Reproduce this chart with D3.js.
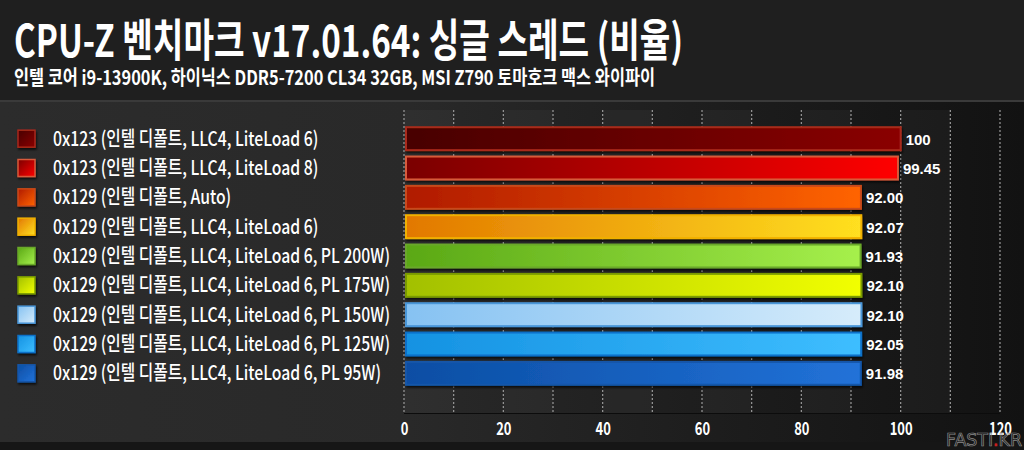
<!DOCTYPE html>
<html><head><meta charset="utf-8">
<script src="https://cdn.jsdelivr.net/npm/d3@7"></script>
<style>html,body{margin:0;padding:0;background:#1c1c1c;}svg{display:block;}</style>
</head><body>
<svg id="c" width="1024" height="450"></svg>
<script>
const title = "CPU-Z 벤치마크 v17.01.64: 싱글 스레드 (비율)";
const subtitle = "인텔 코어 i9-13900K, 하이닉스 DDR5-7200 CL34 32GB, MSI Z790 토마호크 맥스 와이파이";
const categories = [
  "0x123 (인텔 디폴트, LLC4, LiteLoad 6)",
  "0x123 (인텔 디폴트, LLC4, LiteLoad 8)",
  "0x129 (인텔 디폴트, Auto)",
  "0x129 (인텔 디폴트, LLC4, LiteLoad 6)",
  "0x129 (인텔 디폴트, LLC4, LiteLoad 6, PL 200W)",
  "0x129 (인텔 디폴트, LLC4, LiteLoad 6, PL 175W)",
  "0x129 (인텔 디폴트, LLC4, LiteLoad 6, PL 150W)",
  "0x129 (인텔 디폴트, LLC4, LiteLoad 6, PL 125W)",
  "0x129 (인텔 디폴트, LLC4, LiteLoad 6, PL 95W)"
];
const values = [100, 99.45, 92.00, 92.07, 91.93, 92.10, 92.10, 92.05, 91.98];
const valueLabels = ["100", "99.45", "92.00", "92.07", "91.93", "92.10", "92.10", "92.05", "91.98"];
const tickValues = [0, 20, 40, 60, 80, 100, 120];
const colorStart = ["#480000", "#7a0000", "#b01a00", "#e27800", "#5aa815", "#a2c000", "#86c2f2", "#1592e2", "#0b4ea4"];
const colorEnd   = ["#8a0000", "#ff0000", "#ff6400", "#ffe020", "#a6f04c", "#f2ff00", "#d6ecfb", "#3ebeff", "#2272d8"];
const colorBorder= ["#a82a1a", "#d85a3a", "#c84a1a", "#f0b000", "#6aa82a", "#7a9a00", "#4a96d8", "#0c70c8", "#1456a8"];

const svg = d3.select("#c");
const W = 1024, H = 450;
const defs = svg.append("defs");

const bg = defs.append("linearGradient").attr("id","bodybg").attr("x1","0").attr("x2","1").attr("y1","0").attr("y2","0");
[[0,"#2c2c2c"],[0.4,"#292929"],[0.7,"#1d1d1d"],[1,"#121212"]].forEach(s=>bg.append("stop").attr("offset",s[0]).attr("stop-color",s[1]));

svg.append("rect").attr("width",W).attr("height",H).attr("fill","#1c1c1c");
svg.append("rect").attr("width",W).attr("height",100).attr("fill","#1f1f1f");
svg.append("rect").attr("y",100).attr("width",W).attr("height",2).attr("fill","#3a3a3a");
svg.append("rect").attr("y",102).attr("width",W).attr("height",340).attr("fill","url(#bodybg)");
svg.append("rect").attr("y",442).attr("width",W).attr("height",8).attr("fill","#161616");

const cjk = "'Noto Sans CJK KR','Noto Sans',sans-serif";

function condense(sel, factor){
  sel.each(function(){
    const n = this.getComputedTextLength();
    d3.select(this).attr("textLength", n*factor).attr("lengthAdjust","spacingAndGlyphs");
  });
}

const t1 = svg.append("text").attr("x",14).attr("y",57).attr("fill","#fff")
  .attr("font-family",cjk).attr("font-weight",700).attr("font-size",45).text(title);
t1.attr("textLength",669).attr("lengthAdjust","spacingAndGlyphs");
const t2 = svg.append("text").attr("x",14).attr("y",85).attr("fill","#fff")
  .attr("font-family",cjk).attr("font-weight",700).attr("font-size",20).text(subtitle);
t2.attr("textLength",641).attr("lengthAdjust","spacingAndGlyphs");

const x = d3.scaleLinear().domain([0,120]).range([404,1000]);
const y = d3.scaleBand().domain(categories).range([124,388]).paddingInner(0.15).paddingOuter(0.075);
const plotTop = 110, plotBot = 413;

// alternating bands
const bands = d3.range(0,120,10).filter(v=> (v/10)%2===0);
svg.append("g").selectAll("rect").data(bands).join("rect")
  .attr("x",d=>x(d)).attr("width",d=>x(d+10)-x(d)).attr("y",plotTop).attr("height",plotBot-plotTop)
  .attr("fill","#ffffff").attr("opacity",0.03);

// grid
svg.append("g").selectAll("line").data(d3.range(0,121,10)).join("line")
  .attr("x1",d=>x(d)).attr("x2",d=>x(d)).attr("y1",plotTop).attr("y2",plotBot)
  .attr("stroke","#9a9a9a").attr("stroke-width",1.2).attr("stroke-dasharray","2,2");
svg.append("line").attr("x1",x(0)).attr("x2",x(120)).attr("y1",plotBot+0.5).attr("y2",plotBot+0.5).attr("stroke","#0c0c0c").attr("stroke-width",1);

// axis
const axis = d3.axisBottom(x).tickValues(tickValues).tickSize(0).tickFormat(d3.format("d"));
const ag = svg.append("g").attr("transform",`translate(0,${plotBot})`).call(axis);
ag.select(".domain").remove();
ag.selectAll("text").attr("fill","#fff").attr("font-family",cjk).attr("font-weight",700)
  .attr("font-size",18).attr("dy",0).attr("y",22);
condense(ag.selectAll("text"), 0.72);

// gradients for bars and legend
categories.forEach((c,i)=>{
  const g = defs.append("linearGradient").attr("id","bg"+i).attr("x1","0").attr("x2","1").attr("y1","0").attr("y2","0");
  g.append("stop").attr("offset",0).attr("stop-color",colorStart[i]);
  g.append("stop").attr("offset",1).attr("stop-color",colorEnd[i]);
  const g2 = defs.append("linearGradient").attr("id","lg"+i).attr("x1","0").attr("x2","1").attr("y1","0").attr("y2","1");
  g2.append("stop").attr("offset",0).attr("stop-color",colorStart[i]);
  g2.append("stop").attr("offset",1).attr("stop-color",colorEnd[i]);
});
const sh = defs.append("filter").attr("id","sh").attr("x","-20%").attr("y","-40%").attr("width","140%").attr("height","180%");
sh.append("feDropShadow").attr("dx",1).attr("dy",2).attr("stdDeviation",1.2).attr("flood-color","#000").attr("flood-opacity",0.7);

// bars
svg.append("g").selectAll("rect").data(values).join("rect")
  .attr("x",x(0)+2).attr("y",(d,i)=>y(categories[i])+1)
  .attr("width",d=>x(d)-x(0)-2).attr("height",y.bandwidth()-2)
  .attr("fill",(d,i)=>`url(#bg${i})`).attr("stroke",(d,i)=>colorBorder[i]).attr("stroke-width",2)
  .attr("filter","url(#sh)");

// value labels
svg.append("g").selectAll("text").data(values).join("text")
  .attr("x",d=>x(d)+5).attr("y",(d,i)=>y(categories[i])+y.bandwidth()/2+6)
  .attr("fill","#fff").attr("font-family","'Liberation Sans',Arial,sans-serif").attr("font-weight",700)
  .attr("font-size",15).text((d,i)=>valueLabels[i]);

// legend
const lg = svg.append("g");
lg.selectAll("rect").data(categories).join("rect")
  .attr("x",18).attr("y",d=>y(d)+y.bandwidth()/2-8.5).attr("width",17).attr("height",17)
  .attr("fill",(d,i)=>`url(#lg${i})`).attr("stroke",(d,i)=>colorBorder[i]).attr("stroke-width",1.5)
  .attr("filter","url(#sh)");
const lt = lg.selectAll("text").data(categories).join("text")
  .attr("x",53).attr("y",d=>y(d)+y.bandwidth()/2+7)
  .attr("fill","#fff").attr("font-family",cjk).attr("font-weight",500).attr("font-size",20).text(d=>d);
let maxW = 0; lt.each(function(){maxW=Math.max(maxW,this.getComputedTextLength());});
condense(lt, 337/maxW);

// watermark
const wm = svg.append("text").attr("x",1022).attr("y",446).attr("text-anchor","end")
  .attr("font-family","'DejaVu Sans',sans-serif").attr("font-size",17)
  .attr("fill","none").attr("stroke","#8a8a8a").attr("stroke-width",0.7)
  .attr("textLength",76).attr("lengthAdjust","spacingAndGlyphs");
wm.append("tspan").text("FASTI");
wm.append("tspan").attr("stroke","#d02020").attr("fill","#d02020").text(".");
wm.append("tspan").text("KR");
</script>
</body></html>
